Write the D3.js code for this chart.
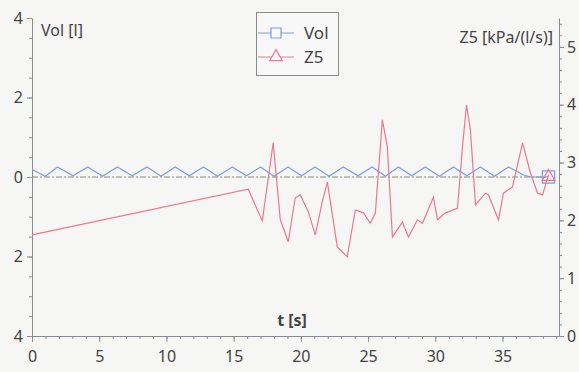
<!DOCTYPE html>
<html>
<head>
<meta charset="utf-8">
<script src="https://cdn.jsdelivr.net/npm/d3@7"></script>
<style>
  body { margin: 0; background: #f6f6f4; }
  svg { display: block; }
</style>
</head>
<body>
<div class="chart"></div>
<script>
// Vol [l] vs t [s]
const volTime = [0, 1.0, 1.9, 3.05, 4.15, 5.25, 6.35, 7.45, 8.55, 9.6, 10.65, 11.7, 12.75, 13.8,
    14.9, 15.95, 17.0, 18.0, 19.05, 20.05, 21.05, 22.1, 23.15, 24.25, 25.3, 26.3, 27.25, 28.25,
    29.25, 30.3, 31.35, 32.35, 33.35, 34.4, 35.45, 36.55, 37.1, 38.42];
const volValue = [0.19, 0.02, 0.25, 0.03, 0.25, 0.02, 0.25, 0.03, 0.25, 0.02, 0.25, 0.03, 0.25, 0.02,
    0.25, 0.03, 0.25, 0.02, 0.25, 0.03, 0.25, 0.02, 0.25, 0.03, 0.25, 0.02, 0.25, 0.03,
    0.25, 0.02, 0.25, 0.03, 0.25, 0.02, 0.25, 0.05, 0, 0];

// Z5 [kPa/(l/s)] vs t [s]
const z5Time = [0, 16.08, 17.13, 17.94, 18.47, 19.06, 19.58, 19.96, 20.55, 21.07, 21.59, 21.97,
    22.71, 23.45, 24.05, 24.65, 25.17, 25.54, 26.06, 26.43, 26.81, 27.55, 28.0, 28.67, 29.04,
    29.86, 30.16, 30.75, 31.65, 32.02, 32.32, 32.61, 32.99, 33.73, 33.95, 34.7, 35.07, 35.74,
    36.49, 37.08, 37.6, 37.98, 38.42];
const z5Value = [1.75, 2.54, 1.99, 3.34, 2.01, 1.63, 2.39, 2.44, 2.15, 1.75, 2.32, 2.66,
    1.54, 1.37, 2.18, 2.13, 1.95, 2.13, 3.74, 3.27, 1.71, 1.97, 1.71, 2.01, 1.95,
    2.4, 2.01, 2.13, 2.21, 3.27, 4.0, 3.56, 2.27, 2.47, 2.44, 2.01, 2.47, 2.58,
    3.34, 2.82, 2.47, 2.44, 2.79];

const xTicks = [0, 5, 10, 15, 20, 25, 30, 35];
const volTicks = [-4, -2, 0, 2, 4];
const z5Ticks = [0, 1, 2, 3, 4, 5];

const width = 579, height = 372;
const svg = d3.select(".chart").append("svg")
    .attr("width", width)
    .attr("height", height)
    .style("font-family", "'Noto Sans', sans-serif");

const x = d3.scaleLinear().domain([0, 39.2]).range([32, 559]);
const yL = d3.scaleLinear().domain([-4, 4]).range([336, 18]);
const yR = d3.scaleLinear().domain([0, 5.5]).range([336, 18]);

const axisCol = "#8a8c94";
const textCol = "#444";

// minor ticks
svg.append("g")
    .attr("transform", `translate(0,336)`)
    .call(d3.axisBottom(x).tickValues(d3.range(0, 40, 1)).tickSize(3).tickFormat(""))
    .call(g => g.select(".domain").remove())
    .selectAll("line").attr("stroke", axisCol);
svg.append("g")
    .attr("transform", `translate(32,0)`)
    .call(d3.axisLeft(yL).tickValues(d3.range(-4, 4.01, 0.5)).tickSize(3).tickFormat(""))
    .call(g => g.select(".domain").remove())
    .selectAll("line").attr("stroke", axisCol);
svg.append("g")
    .attr("transform", `translate(559,0)`)
    .call(d3.axisRight(yR).tickValues(d3.range(0, 5.41, 0.2)).tickSize(3).tickFormat(""))
    .call(g => g.select(".domain").remove())
    .selectAll("line").attr("stroke", axisCol);

// major axes
const xAxis = svg.append("g")
    .attr("transform", `translate(0,336)`)
    .call(d3.axisBottom(x).tickValues(xTicks).tickSize(6).tickPadding(9)
        .tickSizeOuter(0).tickFormat(d3.format("d")));
const leftAxis = svg.append("g")
    .attr("transform", `translate(32,0)`)
    .call(d3.axisLeft(yL).tickValues(volTicks).tickSize(5).tickPadding(4)
        .tickSizeOuter(0).tickFormat(d => Math.abs(d)));
const rightAxis = svg.append("g")
    .attr("transform", `translate(559,0)`)
    .call(d3.axisRight(yR).tickValues(z5Ticks).tickSize(5).tickPadding(3)
        .tickSizeOuter(0).tickFormat(d3.format("d")));

[xAxis, leftAxis, rightAxis].forEach(g => {
    g.select(".domain").attr("stroke", axisCol);
    g.selectAll(".tick line").attr("stroke", axisCol);
    g.selectAll("text")
        .attr("fill", textCol)
        .attr("font-size", "16px")
        .attr("font-family", "'Noto Sans', sans-serif");
});

// zero line of Vol (dash-dot)
svg.append("line")
    .attr("x1", x(0)).attr("x2", x(38.42))
    .attr("y1", yL(0)).attr("y2", yL(0))
    .attr("stroke", "#8c8a70")
    .attr("stroke-width", 1)
    .attr("stroke-dasharray", "6,2,2,2");

const volData = volTime.map((t, i) => ({t: t, v: volValue[i]}));
const z5Data = z5Time.map((t, i) => ({t: t, v: z5Value[i]}));

svg.append("path")
    .datum(volData)
    .attr("fill", "none")
    .attr("stroke", "#7c9ee6")
    .attr("stroke-width", 1.2)
    .attr("d", d3.line().x(d => x(d.t)).y(d => yL(d.v)));

svg.append("path")
    .datum(z5Data)
    .attr("fill", "none")
    .attr("stroke", "#ec7890")
    .attr("stroke-width", 1.2)
    .attr("d", d3.line().x(d => x(d.t)).y(d => yR(d.v)));

// end markers
const lastVol = volData[volData.length - 1];
const lastZ5 = z5Data[z5Data.length - 1];
svg.append("path")
    .attr("transform", `translate(${x(lastVol.t)},${yL(lastVol.v)})`)
    .attr("d", d3.symbol(d3.symbolSquare, 150)())
    .attr("fill", "none")
    .attr("stroke", "#7c9ee6")
    .attr("stroke-width", 1.2);
svg.append("path")
    .attr("transform", `translate(${x(lastZ5.t)},${yR(lastZ5.v) + 2})`)
    .attr("d", d3.symbol(d3.symbolTriangle, 70)())
    .attr("fill", "none")
    .attr("stroke", "#ec7890")
    .attr("stroke-width", 1.2);

// axis titles
svg.append("text")
    .attr("x", 41).attr("y", 36)
    .attr("fill", textCol)
    .attr("font-size", "16px")
    .text("Vol [l]");
svg.append("text")
    .attr("x", 553).attr("y", 43)
    .attr("text-anchor", "end")
    .attr("fill", textCol)
    .attr("font-size", "16px")
    .text("Z5 [kPa/(l/s)]");
svg.append("text")
    .attr("x", 292).attr("y", 326)
    .attr("text-anchor", "middle")
    .attr("fill", textCol)
    .attr("font-size", "16px")
    .attr("font-weight", "bold")
    .text("t [s]");

// legend
const legend = svg.append("g");
legend.append("rect")
    .attr("x", 256.5).attr("y", 12.5)
    .attr("width", 82).attr("height", 63)
    .attr("fill", "#f8f8f8")
    .attr("stroke", "#8a8a92");
const legendItems = [
    {name: "Vol", color: "#7c9ee6", sym: d3.symbolSquare, size: 100, y: 33},
    {name: "Z5", color: "#ec7890", sym: d3.symbolTriangle, size: 70, y: 57}
];
legendItems.forEach(d => {
    legend.append("line")
        .attr("x1", 258).attr("x2", 294)
        .attr("y1", d.y).attr("y2", d.y)
        .attr("stroke", d.color).attr("stroke-width", 1.2);
    legend.append("path")
        .attr("transform", `translate(276,${d.y})`)
        .attr("d", d3.symbol(d.sym, d.size)())
        .attr("fill", "#f8f8f8")
        .attr("stroke", d.color).attr("stroke-width", 1.2);
    legend.append("text")
        .attr("x", 304).attr("y", d.y + 6)
        .attr("fill", textCol)
        .attr("font-size", "17px")
        .text(d.name);
});
</script>
</body>
</html>
